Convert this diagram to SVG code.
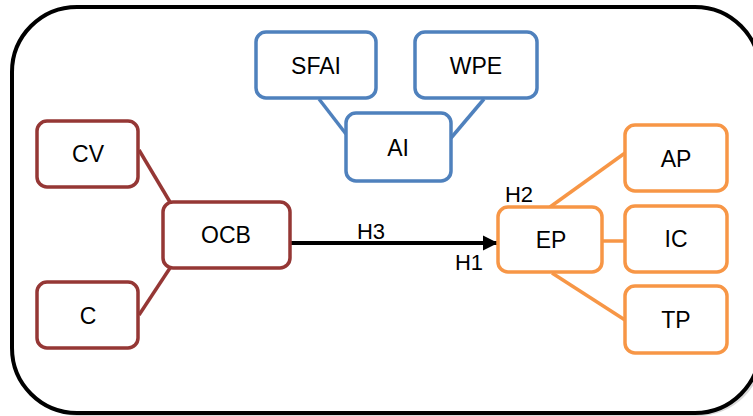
<svg xmlns="http://www.w3.org/2000/svg" width="753" height="416" viewBox="0 0 753 416">
<style>
.n{fill:#fff;stroke-width:3.5}
.r{stroke:#953735}
.b{stroke:#4f81bd}
.o{stroke:#f79646}
.t{font-family:"Liberation Sans",Arial,sans-serif;font-size:23px;fill:#000;text-anchor:middle}
.l{font-family:"Liberation Sans",Arial,sans-serif;font-size:22px;fill:#000;text-anchor:middle}
.c{fill:none;stroke-width:3.5}
</style>
<defs>
<marker id="ah" markerUnits="userSpaceOnUse" markerWidth="16" markerHeight="16" refX="15" refY="8" orient="auto">
<path d="M0,0.5 L15,8 L0,15.5 Z" fill="#000"/>
</marker>
</defs>
<rect x="15" y="10" width="748" height="406" rx="65" fill="#d9d9d9"/>
<rect x="12" y="7" width="748" height="406" rx="65" fill="#fff" stroke="#000" stroke-width="4"/>
<g id="connectors">
<line class="c b" x1="319" y1="99" x2="346" y2="134"/>
<line class="c b" x1="484" y1="99" x2="451" y2="138"/>
<line class="c r" x1="139" y1="150" x2="170" y2="202"/>
<line class="c r" x1="139" y1="315" x2="170" y2="268"/>
<line class="c o" x1="550" y1="207" x2="625" y2="153"/>
<line class="c o" x1="602" y1="241" x2="625" y2="241"/>
<line class="c o" x1="552" y1="273" x2="625" y2="320"/>
<line x1="291" y1="243" x2="498" y2="243" stroke="#000" stroke-width="4" marker-end="url(#ah)"/>
<text class="l" x="371" y="239">H3</text>
<text class="l" x="469" y="270">H1</text>
<text class="l" x="519" y="202">H2</text>
</g>
<g id="SFAI"><rect class="n b" x="256" y="32" width="120" height="66" rx="10"/><text class="t" x="316" y="74">SFAI</text></g>
<g id="WPE"><rect class="n b" x="415" y="32" width="122" height="66" rx="10"/><text class="t" x="476" y="74">WPE</text></g>
<g id="AI"><rect class="n b" x="346" y="113" width="105" height="68" rx="10"/><text class="t" x="398" y="156">AI</text></g>
<g id="CV"><rect class="n r" x="37" y="121" width="101" height="66" rx="10"/><text class="t" x="88" y="162">CV</text></g>
<g id="OCB"><rect class="n r" x="163" y="202" width="127" height="66" rx="10"/><text class="t" x="226" y="243">OCB</text></g>
<g id="C"><rect class="n r" x="37" y="282" width="101" height="66" rx="10"/><text class="t" x="88" y="324">C</text></g>
<g id="EP"><rect class="n o" x="498" y="207" width="104" height="65" rx="10"/><text class="t" x="551" y="248">EP</text></g>
<g id="AP"><rect class="n o" x="625" y="125" width="102" height="66" rx="10"/><text class="t" x="676" y="167">AP</text></g>
<g id="IC"><rect class="n o" x="625" y="206" width="102" height="66" rx="10"/><text class="t" x="676" y="247">IC</text></g>
<g id="TP"><rect class="n o" x="625" y="286" width="102" height="67" rx="10"/><text class="t" x="676" y="328">TP</text></g>
</svg>
